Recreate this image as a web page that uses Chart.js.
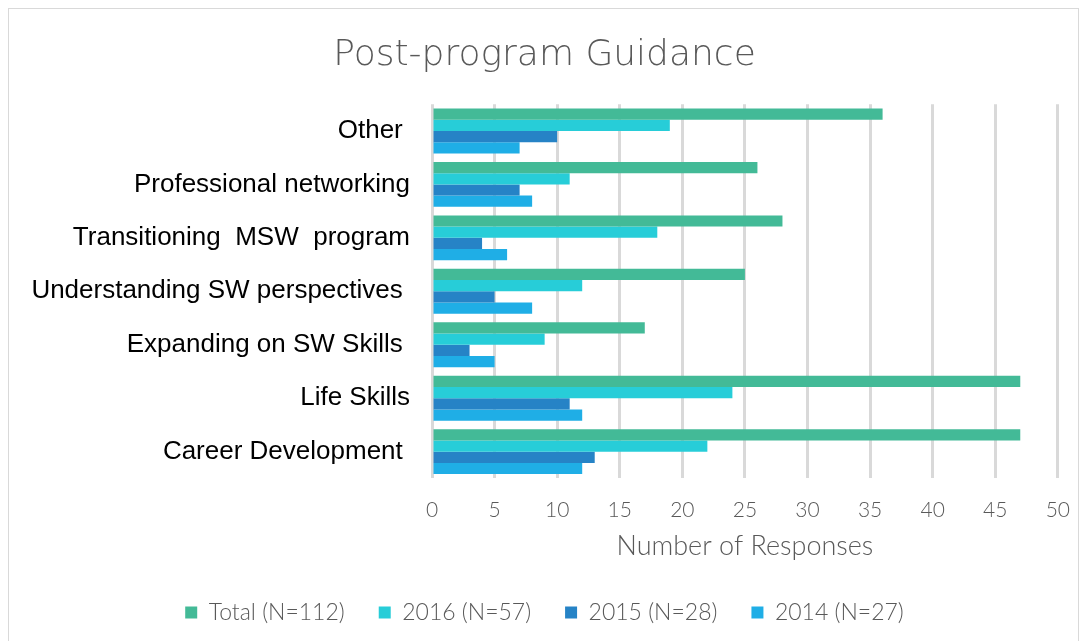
<!DOCTYPE html>
<html>
<head>
<meta charset="utf-8">
<script src="https://cdn.jsdelivr.net/npm/chart.js@4"></script>
<style>
  html, body { margin: 0; padding: 0; background: #fff; }
  #wrap { position: relative; width: 1089px; height: 641px; }
  #frame { position: absolute; left: 8px; top: 8px; width: 1071px; height: 640px; border: 1px solid #d9d9d9; box-sizing: border-box; }
  canvas { position: absolute; left: 0; top: 0; }
</style>
</head>
<body>
<div id="wrap">
  <div id="frame"></div>
  <canvas id="chart" width="1089" height="641"></canvas>
</div>
<script>
const categories = [
  "Other ",
  "Professional networking",
  "Transitioning  MSW  program",
  "Understanding SW perspectives ",
  "Expanding on SW Skills ",
  "Life Skills",
  "Career Development "
];
const total  = [36, 26, 28, 25, 17, 47, 47];
const y2016  = [19, 11, 18, 12, 9, 24, 22];
const y2015  = [10, 7, 4, 5, 3, 11, 13];
const y2014  = [7, 8, 6, 8, 5, 12, 12];
const seriesNames = ["Total (N=112)", "2016 (N=57)", "2015 (N=28)", "2014 (N=27)"];
const colors = ["#43BA97", "#27CDD8", "#2683C6", "#1FAEE6"];

function makeDataset(label, data, color){
  return {
    label: label,
    data: data,
    backgroundColor: color,
    borderWidth: 0,
    barPercentage: 1,
    categoryPercentage: 0.84
  }
}

const grey = '#595959';

new Chart(document.getElementById('chart'), {
  type: 'bar',
  data: {
    labels: categories,
    datasets: [
      makeDataset(seriesNames[0], total, colors[0]),
      makeDataset(seriesNames[1], y2016, colors[1]),
      makeDataset(seriesNames[2], y2015, colors[2]),
      makeDataset(seriesNames[3], y2014, colors[3])
    ]
  },
  options: {
    indexAxis: 'y',
    responsive: false,
    animation: false,
    layout: { padding: { left: 24, right: 24, top: 0, bottom: 7 } },
    scales: {
      x: {
        min: 0,
        max: 50,
        ticks: { stepSize: 5, color: grey, padding: 19, font: { family: 'Lato', size: 21, weight: 300 } },
        grid: { color: '#d9d9d9', lineWidth: 3, drawTicks: false },
        border: { display: false },
        title: { display: true, text: 'Number of Responses', color: grey, font: { family: 'Lato', size: 27, weight: 300 }, padding: { top: -12, bottom: 5 } }
      },
      y: {
        ticks: { color: '#000', padding: 22, font: { family: 'Liberation Sans', size: 26 } },
        grid: { display: false, drawTicks: false },
        border: { display: false },
        afterFit: function(scale){ scale.width = 408; }
      }
    },
    plugins: {
      title: {
        display: true,
        text: 'Post-program Guidance',
        color: grey,
        font: { family: 'DejaVu Sans', size: 36, weight: 300 },
        padding: { top: 34, bottom: 27 }
      },
      legend: {
        position: 'bottom',
        labels: { color: grey, boxWidth: 12, boxHeight: 12, padding: 34, font: { family: 'Lato', size: 23, weight: 300 } }
      },
      tooltip: { enabled: false }
    }
  }
});
</script>
</body>
</html>
